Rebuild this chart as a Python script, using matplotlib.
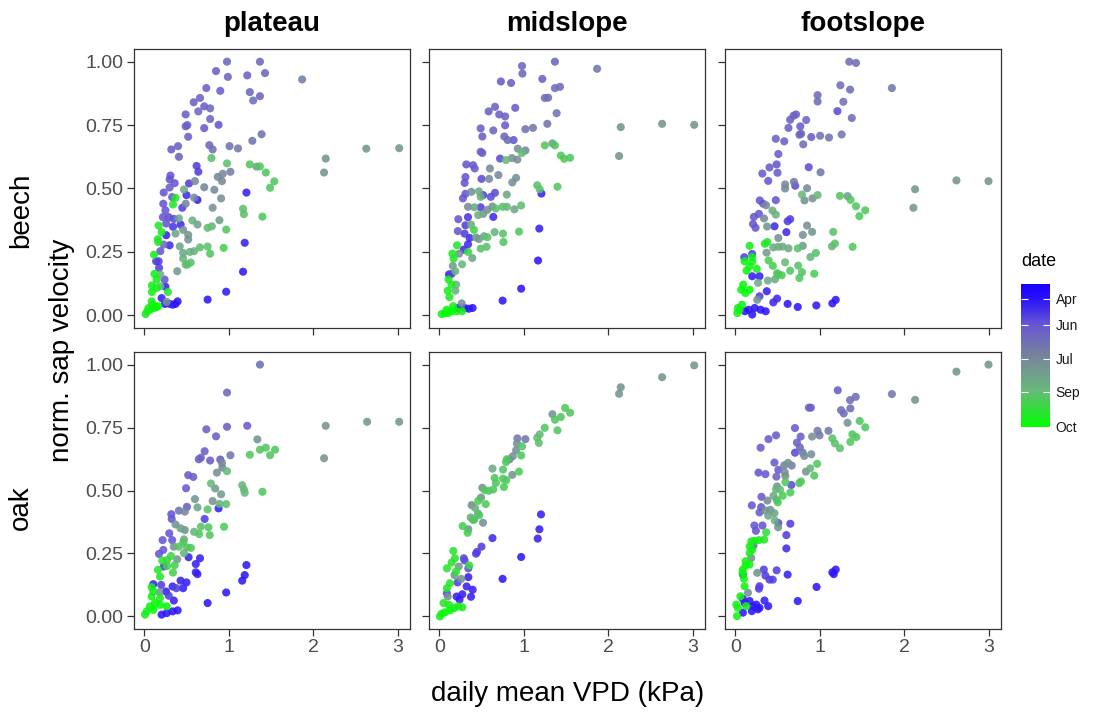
import numpy as np
import matplotlib
matplotlib.use("Agg")
import matplotlib.pyplot as plt
from matplotlib.colors import LinearSegmentedColormap, Normalize
from matplotlib.cm import ScalarMappable

plt.rcParams["font.family"] = ["Liberation Sans", "DejaVu Sans"]

# (daily mean VPD [kPa], normalised sap velocity, day of year)
beech_plateau = [
    (0.98, 1.00, 165), (1.37, 1.00, 165), (0.85, 0.963, 160), (0.99, 0.94, 165), (1.22, 0.946, 160),
    (1.43, 0.955, 165), (1.87, 0.93, 185), (0.735, 0.896, 160), (0.90, 0.885, 155), (1.25, 0.88, 165),
    (1.37, 0.864, 165), (1.29, 0.847, 170), (0.66, 0.857, 160), (0.585, 0.84, 160), (0.71, 0.824, 160),
    (0.78, 0.816, 165), (0.64, 0.804, 165), (0.49, 0.792, 160), (0.78, 0.774, 165), (0.71, 0.738, 155),
    (0.88, 0.751, 150), (0.49, 0.745, 155), (0.51, 0.75, 160), (0.52, 0.704, 160), (1.39, 0.714, 175),
    (1.28, 0.688, 175), (0.77, 0.671, 165), (0.81, 0.654, 170), (1.01, 0.667, 175), (1.11, 0.658, 180),
    (0.40, 0.667, 160), (0.32, 0.654, 155), (0.41, 0.625, 160),
    (0.795, 0.62, 240), (0.98, 0.599, 240), (1.25, 0.595, 245), (1.37, 0.587, 245), (1.33, 0.586, 215),
    (1.44, 0.563, 245), (1.54, 0.528, 245), (1.49, 0.503, 245),
    (2.15, 0.618, 205), (2.13, 0.563, 205), (2.63, 0.657, 205), (3.02, 0.659, 205),
    (0.62, 0.589, 140), (0.64, 0.566, 140), (0.31, 0.551, 150), (0.30, 0.536, 150), (0.36, 0.521, 150),
    (0.53, 0.52, 140), (0.60, 0.529, 195), (0.87, 0.546, 195), (0.93, 0.558, 195), (0.92, 0.529, 195),
    (1.02, 0.566, 185), (0.71, 0.505, 190), (0.83, 0.495, 195), (0.30, 0.504, 155), (0.23, 0.484, 150),
    (0.47, 0.496, 225), (0.33, 0.466, 150), (0.37, 0.463, 265), (1.21, 0.484, 125), (0.50, 0.474, 130),
    (0.63, 0.455, 125), (0.59, 0.464, 195), (0.34, 0.437, 265), (0.225, 0.44, 150), (0.45, 0.424, 140),
    (0.49, 0.44, 190), (0.91, 0.461, 200), (0.81, 0.424, 200), (0.25, 0.414, 150), (1.17, 0.42, 240),
    (1.18, 0.399, 240), (1.40, 0.389, 245), (0.22, 0.387, 150), (0.29, 0.387, 145), (0.41, 0.382, 220),
    (0.35, 0.38, 145), (0.57, 0.374, 230), (0.63, 0.358, 215), (0.89, 0.375, 215), (0.17, 0.354, 265),
    (0.26, 0.362, 150), (0.34, 0.349, 135), (0.43, 0.358, 130), (0.75, 0.345, 240), (0.80, 0.351, 230),
    (0.97, 0.338, 245), (0.205, 0.328, 265), (0.37, 0.322, 220), (0.46, 0.337, 205), (0.26, 0.316, 125),
    (0.52, 0.317, 205), (0.16, 0.30, 265), (0.165, 0.289, 265), (0.23, 0.279, 170), (0.30, 0.276, 130),
    (0.42, 0.272, 220), (0.52, 0.299, 205), (0.66, 0.268, 240), (0.75, 0.271, 240), (0.78, 0.243, 245),
    (0.54, 0.25, 230), (0.59, 0.253, 230), (0.46, 0.246, 220), (0.94, 0.266, 250), (1.19, 0.286, 125),
    (0.19, 0.253, 150), (0.115, 0.239, 270), (0.14, 0.213, 140), (0.17, 0.213, 140), (0.46, 0.224, 230),
    (0.51, 0.20, 235), (0.55, 0.208, 240), (0.49, 0.20, 240), (0.175, 0.187, 140), (0.12, 0.163, 270),
    (0.19, 0.161, 230), (0.39, 0.174, 210), (1.17, 0.172, 120), (0.145, 0.141, 270), (0.24, 0.141, 150),
    (0.09, 0.118, 270), (0.145, 0.108, 270), (0.19, 0.114, 240), (0.25, 0.113, 125), (0.28, 0.092, 265),
    (0.09, 0.092, 272), (0.97, 0.093, 120), (0.75, 0.062, 120), (0.205, 0.068, 125), (0.265, 0.053, 200),
    (0.245, 0.045, 120), (0.335, 0.042, 120), (0.395, 0.055, 120), (0.37, 0.045, 120), (0.30, 0.045, 125),
    (0.087, 0.055, 272), (0.115, 0.029, 278), (0.14, 0.032, 278), (0.165, 0.036, 275), (0.07, 0.022, 272),
    (0.035, 0.016, 270), (0.016, 0.005, 265), (0.05, 0.029, 265), (0.10, 0.042, 272),
]

beech_midslope = [
    (1.37, 1.00, 165), (0.98, 0.983, 165), (0.985, 0.953, 165), (1.87, 0.972, 180), (0.73, 0.922, 155),
    (0.85, 0.916, 160), (1.22, 0.932, 160), (1.37, 0.896, 170), (1.43, 0.901, 170), (1.25, 0.857, 170),
    (1.29, 0.858, 170), (0.66, 0.822, 160), (0.90, 0.818, 155), (0.585, 0.804, 160), (0.71, 0.792, 160),
    (0.78, 0.784, 160), (1.39, 0.797, 175), (0.49, 0.737, 160), (0.78, 0.749, 155), (0.64, 0.729, 165),
    (0.51, 0.705, 160), (1.02, 0.734, 175), (1.11, 0.739, 180), (1.28, 0.755, 175), (0.77, 0.705, 165),
    (0.81, 0.691, 170), (0.88, 0.691, 150), (2.15, 0.742, 205), (2.64, 0.755, 205), (3.02, 0.751, 205),
    (2.13, 0.628, 205), (1.25, 0.67, 245), (1.34, 0.678, 210), (1.37, 0.67, 245), (1.44, 0.63, 245),
    (1.48, 0.617, 245), (1.55, 0.621, 245), (0.93, 0.657, 200), (0.98, 0.64, 240), (1.02, 0.65, 190),
    (0.49, 0.645, 160), (0.51, 0.64, 160), (0.72, 0.618, 145), (0.79, 0.612, 235), (0.86, 0.62, 200),
    (0.925, 0.614, 200), (0.32, 0.595, 150), (0.40, 0.592, 155), (0.42, 0.579, 155), (0.60, 0.579, 195),
    (0.70, 0.553, 195), (0.59, 0.538, 195), (0.31, 0.545, 150), (0.50, 0.538, 145), (0.30, 0.522, 150),
    (0.865, 0.524, 200), (0.91, 0.542, 200), (1.16, 0.513, 240), (1.19, 0.497, 240), (1.21, 0.48, 125),
    (1.40, 0.507, 245), (0.47, 0.489, 225), (0.49, 0.467, 230), (0.38, 0.487, 200), (0.66, 0.483, 145),
    (0.61, 0.467, 145), (0.52, 0.474, 140), (0.80, 0.476, 220), (0.28, 0.461, 150), (0.31, 0.479, 150),
    (0.34, 0.428, 195), (0.415, 0.426, 220), (0.49, 0.426, 140), (0.57, 0.416, 200), (0.63, 0.429, 200),
    (0.67, 0.421, 240), (0.75, 0.428, 240), (0.80, 0.428, 230), (0.89, 0.418, 220), (0.97, 0.433, 240),
    (0.46, 0.395, 225), (0.52, 0.40, 205), (0.64, 0.388, 130), (0.225, 0.379, 150), (0.34, 0.387, 135),
    (0.31, 0.355, 140), (0.375, 0.358, 225), (0.22, 0.332, 150), (0.41, 0.337, 250), (0.30, 0.322, 140),
    (1.185, 0.342, 125), (0.945, 0.33, 245), (0.755, 0.322, 240), (0.655, 0.328, 230), (0.53, 0.312, 230),
    (0.57, 0.308, 240), (0.435, 0.307, 210), (0.47, 0.301, 210), (0.76, 0.289, 245), (0.36, 0.305, 130),
    (0.34, 0.28, 130), (0.21, 0.276, 265), (0.49, 0.263, 240), (0.56, 0.27, 240), (0.29, 0.259, 130),
    (0.34, 0.25, 255), (0.235, 0.243, 200), (0.155, 0.243, 268), (0.17, 0.224, 265), (0.39, 0.226, 220),
    (1.17, 0.216, 120), (0.27, 0.201, 235), (0.16, 0.195, 210), (0.19, 0.174, 230), (0.115, 0.161, 125),
    (0.145, 0.163, 140), (0.11, 0.141, 268), (0.20, 0.121, 230), (0.145, 0.121, 268), (0.10, 0.097, 270),
    (0.97, 0.105, 120), (0.75, 0.058, 120), (0.19, 0.097, 230), (0.12, 0.072, 270), (0.265, 0.047, 200),
    (0.30, 0.029, 120), (0.35, 0.026, 120), (0.395, 0.029, 120), (0.225, 0.029, 120), (0.27, 0.016, 270),
    (0.205, 0.016, 275), (0.145, 0.016, 278), (0.105, 0.009, 278), (0.067, 0.009, 275), (0.028, 0.005, 272),
    (0.087, 0.022, 275), (0.165, 0.036, 272),
]

beech_footslope = [
    (1.35, 1.00, 170), (1.43, 0.995, 170), (1.855, 0.896, 180), (1.245, 0.907, 170), (1.36, 0.89, 170),
    (0.975, 0.868, 170), (0.975, 0.843, 170), (1.28, 0.842, 175), (1.21, 0.805, 145), (1.38, 0.778, 170),
    (0.72, 0.792, 160), (0.69, 0.787, 160), (0.65, 0.771, 160), (0.84, 0.77, 165), (0.77, 0.745, 155),
    (0.63, 0.739, 160), (0.76, 0.712, 165), (0.78, 0.716, 165), (0.90, 0.703, 155), (1.005, 0.708, 175),
    (1.11, 0.701, 175), (1.26, 0.713, 180), (0.805, 0.674, 170), (0.48, 0.696, 160), (0.58, 0.686, 160),
    (0.51, 0.636, 155), (0.49, 0.595, 150), (0.405, 0.583, 155), (0.32, 0.559, 155), (0.50, 0.562, 155),
    (0.39, 0.53, 150), (0.87, 0.584, 145), (1.01, 0.564, 180), (0.59, 0.516, 195), (0.59, 0.50, 195),
    (0.695, 0.526, 180), (0.71, 0.511, 145), (0.85, 0.501, 195), (0.79, 0.476, 235), (0.82, 0.453, 200),
    (0.915, 0.461, 200), (0.975, 0.474, 235), (1.24, 0.471, 245), (1.33, 0.47, 210), (1.365, 0.455, 245),
    (1.43, 0.43, 245), (1.54, 0.414, 245), (1.47, 0.391, 245), (2.13, 0.497, 205), (2.11, 0.424, 205),
    (2.62, 0.532, 205), (3.00, 0.529, 205), (0.29, 0.453, 150), (0.365, 0.434, 195), (0.33, 0.44, 150),
    (0.48, 0.454, 150), (0.44, 0.413, 225), (0.48, 0.397, 230), (0.28, 0.40, 150), (0.22, 0.388, 150),
    (0.34, 0.382, 195), (0.21, 0.36, 150), (0.24, 0.345, 150), (0.377, 0.35, 205), (0.465, 0.351, 130),
    (0.62, 0.371, 140), (0.65, 0.379, 140), (0.605, 0.328, 130), (0.85, 0.354, 200), (0.91, 0.329, 205),
    (0.80, 0.317, 205), (0.51, 0.305, 200), (1.16, 0.329, 240), (1.18, 0.283, 240), (1.145, 0.272, 230),
    (1.39, 0.27, 245), (0.17, 0.274, 270), (0.35, 0.282, 265), (0.38, 0.289, 265), (0.45, 0.268, 225),
    (0.51, 0.27, 225), (0.56, 0.271, 225), (0.63, 0.264, 225), (0.74, 0.264, 240), (0.80, 0.274, 210),
    (0.37, 0.247, 210), (0.20, 0.242, 140), (0.106, 0.229, 140), (0.20, 0.23, 270), (0.11, 0.213, 275),
    (0.395, 0.216, 250), (0.445, 0.195, 250), (0.59, 0.209, 235), (0.745, 0.196, 240), (0.89, 0.23, 230),
    (0.955, 0.246, 240), (0.20, 0.212, 272), (0.17, 0.193, 272), (0.255, 0.183, 270), (0.134, 0.176, 275),
    (0.20, 0.154, 125), (0.287, 0.154, 125), (0.495, 0.166, 245), (0.51, 0.161, 245), (0.55, 0.158, 250),
    (0.65, 0.176, 245), (0.79, 0.17, 245), (0.76, 0.147, 245), (0.935, 0.164, 250), (0.385, 0.137, 225),
    (0.47, 0.142, 225), (0.27, 0.128, 225), (0.094, 0.121, 275), (0.12, 0.088, 278), (0.17, 0.101, 278),
    (0.07, 0.101, 278), (0.373, 0.095, 125), (0.26, 0.061, 205), (0.287, 0.075, 140), (0.495, 0.066, 130),
    (0.45, 0.051, 130), (0.62, 0.045, 120), (0.74, 0.033, 120), (0.96, 0.039, 120), (1.15, 0.047, 120),
    (1.19, 0.061, 120), (0.157, 0.022, 120), (0.23, 0.029, 120), (0.30, 0.022, 120), (0.36, 0.016, 120),
    (0.20, 0.003, 120), (0.114, 0.016, 120), (0.024, 0.009, 272), (0.05, 0.022, 272), (0.08, 0.042, 272),
    (0.03, 0.029, 272),
]

oak_plateau = [
    (1.37, 1.00, 170), (0.98, 0.889, 165), (0.735, 0.743, 160), (0.98, 0.753, 160), (1.22, 0.757, 155),
    (0.85, 0.715, 160), (2.15, 0.757, 205), (2.64, 0.773, 205), (3.02, 0.773, 205), (2.13, 0.628, 205),
    (1.34, 0.703, 205), (1.37, 0.662, 245), (1.44, 0.67, 245), (1.55, 0.662, 245), (1.25, 0.642, 245),
    (1.49, 0.64, 245), (1.02, 0.64, 180), (0.715, 0.656, 160), (0.645, 0.624, 160), (0.67, 0.63, 160),
    (0.78, 0.619, 155), (0.90, 0.623, 150), (0.92, 0.61, 195), (0.925, 0.591, 195), (0.98, 0.577, 235),
    (0.86, 0.571, 200), (0.52, 0.561, 155), (0.58, 0.554, 155), (0.495, 0.509, 155), (1.16, 0.521, 235),
    (1.18, 0.504, 235), (1.19, 0.491, 235), (1.40, 0.495, 245), (0.79, 0.528, 235), (0.84, 0.508, 210),
    (0.91, 0.485, 210), (0.60, 0.466, 205), (0.81, 0.458, 205), (0.89, 0.447, 230), (0.97, 0.446, 240),
    (0.88, 0.429, 125), (0.63, 0.433, 220), (0.75, 0.425, 240), (0.505, 0.435, 155), (0.41, 0.42, 175),
    (0.48, 0.416, 195), (0.32, 0.406, 150), (0.325, 0.387, 150), (0.715, 0.387, 140), (0.37, 0.365, 200),
    (0.43, 0.35, 215), (0.48, 0.343, 205), (0.59, 0.336, 230), (0.67, 0.356, 240), (0.76, 0.354, 245),
    (0.775, 0.323, 245), (0.945, 0.356, 250), (0.65, 0.327, 245), (0.296, 0.33, 150), (0.217, 0.303, 150),
    (0.33, 0.303, 150), (0.47, 0.306, 220), (0.462, 0.294, 245), (0.35, 0.277, 205), (0.41, 0.277, 245),
    (0.506, 0.274, 245), (0.553, 0.272, 245), (0.225, 0.264, 150), (0.174, 0.248, 150), (0.47, 0.251, 230),
    (0.316, 0.24, 255), (0.525, 0.235, 125), (0.66, 0.231, 125), (0.39, 0.227, 205), (0.213, 0.222, 265),
    (0.27, 0.224, 250), (0.61, 0.208, 125), (0.27, 0.20, 255), (0.36, 0.203, 250), (0.23, 0.198, 140),
    (1.21, 0.204, 120), (0.34, 0.174, 250), (0.162, 0.185, 265), (0.186, 0.158, 265), (0.61, 0.175, 125),
    (0.63, 0.168, 125), (1.19, 0.164, 120), (1.16, 0.142, 120), (0.43, 0.142, 125), (0.50, 0.135, 125),
    (0.107, 0.128, 125), (0.20, 0.125, 140), (0.335, 0.119, 125), (0.38, 0.112, 140), (0.46, 0.112, 125),
    (0.087, 0.116, 270), (0.107, 0.099, 270), (0.178, 0.096, 205), (0.257, 0.099, 125), (0.29, 0.082, 140),
    (0.97, 0.095, 120), (0.75, 0.053, 120), (0.35, 0.063, 125), (0.186, 0.073, 265), (0.087, 0.079, 270),
    (0.126, 0.053, 278), (0.186, 0.046, 278), (0.265, 0.04, 275), (0.067, 0.04, 275), (0.028, 0.02, 272),
    (0.008, 0.007, 270), (0.205, 0.007, 120), (0.265, 0.013, 120), (0.336, 0.02, 120), (0.395, 0.024, 120),
    (0.107, 0.026, 278),
]

oak_midslope = [
    (3.02, 0.997, 205), (2.64, 0.95, 205), (2.15, 0.91, 205), (2.13, 0.884, 205), (1.49, 0.828, 245),
    (1.55, 0.809, 245), (1.44, 0.792, 245), (1.37, 0.781, 245), (1.34, 0.803, 205), (1.25, 0.749, 245),
    (1.40, 0.739, 245), (1.19, 0.723, 235), (1.16, 0.71, 235), (1.18, 0.689, 240), (0.925, 0.707, 180),
    (1.02, 0.704, 180), (0.92, 0.686, 200), (0.98, 0.675, 245), (0.91, 0.66, 200), (0.97, 0.639, 245),
    (0.87, 0.636, 200), (0.83, 0.623, 185), (0.80, 0.624, 245), (0.79, 0.613, 240), (0.63, 0.587, 225),
    (0.755, 0.583, 245), (0.945, 0.575, 250), (0.865, 0.562, 205), (0.656, 0.55, 245), (0.755, 0.547, 245),
    (0.795, 0.541, 245), (0.67, 0.53, 245), (0.766, 0.514, 250), (0.51, 0.511, 200), (0.54, 0.501, 245),
    (0.585, 0.499, 245), (0.64, 0.504, 245), (0.494, 0.472, 205), (0.462, 0.459, 250), (0.55, 0.446, 245),
    (0.383, 0.442, 195), (0.423, 0.431, 230), (0.458, 0.409, 230), (0.474, 0.402, 245), (0.372, 0.393, 225),
    (0.415, 0.385, 225), (0.518, 0.372, 200), (0.40, 0.383, 245), (0.277, 0.359, 250), (0.344, 0.346, 205),
    (0.336, 0.332, 250), (1.205, 0.405, 125), (1.186, 0.346, 125), (1.166, 0.309, 125), (0.63, 0.311, 130),
    (0.50, 0.277, 140), (0.447, 0.256, 140), (0.435, 0.249, 140), (0.97, 0.236, 120), (0.166, 0.26, 262),
    (0.186, 0.231, 262), (0.146, 0.214, 262), (0.29, 0.231, 145), (0.30, 0.222, 145), (0.23, 0.198, 205),
    (0.356, 0.202, 255), (0.344, 0.191, 145), (0.09, 0.191, 265), (0.198, 0.178, 262), (0.18, 0.164, 205),
    (0.26, 0.149, 205), (0.75, 0.149, 120), (0.344, 0.156, 125), (0.126, 0.132, 265), (0.217, 0.135, 140),
    (0.324, 0.119, 125), (0.395, 0.106, 125), (0.09, 0.112, 265), (0.09, 0.092, 140), (0.205, 0.079, 125),
    (0.273, 0.088, 125), (0.375, 0.078, 125), (0.24, 0.067, 125), (0.10, 0.079, 200), (0.05, 0.053, 265),
    (0.115, 0.046, 270), (0.178, 0.033, 270), (0.273, 0.036, 265), (0.225, 0.04, 270), (0.126, 0.024, 278),
    (0.067, 0.016, 278), (0.008, 0.00, 272), (0.028, 0.011, 272),
]

oak_footslope = [
    (3.00, 1.00, 205), (2.62, 0.972, 205), (1.855, 0.883, 180), (2.13, 0.86, 205), (1.214, 0.898, 155),
    (1.36, 0.859, 170), (1.426, 0.872, 170), (1.253, 0.819, 170), (1.363, 0.826, 170), (1.285, 0.806, 170),
    (0.872, 0.829, 160), (0.896, 0.829, 160), (1.33, 0.769, 205), (1.474, 0.776, 245), (1.54, 0.751, 245),
    (1.387, 0.723, 245), (1.434, 0.712, 245), (1.363, 0.693, 245), (1.15, 0.707, 240), (1.18, 0.687, 240),
    (1.24, 0.668, 240), (1.104, 0.737, 180), (0.974, 0.737, 180), (0.998, 0.719, 180), (0.91, 0.714, 200),
    (0.707, 0.748, 155), (0.774, 0.714, 160), (0.483, 0.719, 155), (0.393, 0.704, 155), (0.30, 0.67, 155),
    (0.73, 0.69, 160), (0.766, 0.671, 165), (0.80, 0.65, 180), (0.707, 0.65, 145), (0.817, 0.637, 200),
    (0.90, 0.644, 200), (0.97, 0.606, 245), (0.888, 0.588, 230), (0.837, 0.575, 205), (0.935, 0.559, 245),
    (0.625, 0.61, 205), (0.58, 0.60, 185), (0.668, 0.599, 185), (0.464, 0.611, 155), (0.51, 0.582, 155),
    (0.275, 0.571, 150), (0.357, 0.565, 150), (0.593, 0.558, 200), (0.585, 0.573, 200), (0.487, 0.555, 160),
    (0.593, 0.533, 245), (0.778, 0.536, 245), (0.758, 0.529, 245), (0.664, 0.522, 145), (0.495, 0.516, 200),
    (0.483, 0.505, 235), (0.53, 0.503, 235), (0.652, 0.492, 250), (0.562, 0.479, 250), (0.452, 0.479, 225),
    (0.49, 0.463, 225), (0.503, 0.453, 250), (0.31, 0.475, 155), (0.196, 0.441, 150), (0.306, 0.434, 150),
    (0.38, 0.46, 195), (0.357, 0.421, 200), (0.416, 0.423, 200), (0.464, 0.41, 220), (0.287, 0.413, 155),
    (0.39, 0.40, 220), (0.468, 0.381, 230), (0.51, 0.371, 145), (0.652, 0.368, 140), (0.507, 0.354, 205),
    (0.226, 0.361, 150), (0.322, 0.361, 150), (0.244, 0.34, 150), (0.365, 0.334, 260), (0.605, 0.323, 140),
    (0.342, 0.305, 265), (0.189, 0.298, 270), (0.228, 0.30, 270), (0.28, 0.303, 270), (0.17, 0.278, 270),
    (0.216, 0.281, 165), (0.20, 0.265, 270), (0.605, 0.27, 130), (0.17, 0.252, 270), (0.189, 0.232, 200),
    (0.122, 0.219, 275), (0.122, 0.202, 275), (0.09, 0.186, 275), (0.17, 0.206, 275), (0.086, 0.173, 275),
    (0.102, 0.15, 275), (0.11, 0.12, 272), (0.09, 0.166, 140), (0.26, 0.173, 205), (0.338, 0.186, 140),
    (0.49, 0.183, 140), (0.357, 0.162, 140), (0.405, 0.146, 140), (0.444, 0.146, 140), (0.62, 0.166, 125),
    (0.287, 0.12, 140), (0.28, 0.11, 140), (1.167, 0.168, 120), (1.19, 0.186, 120), (1.15, 0.175, 120),
    (0.963, 0.117, 120), (0.74, 0.061, 120), (0.15, 0.094, 200), (0.06, 0.08, 272), (0.09, 0.07, 125),
    (0.012, 0.047, 272), (0.03, 0.034, 272), (0.02, 0.001, 272), (0.11, 0.054, 120), (0.17, 0.061, 120),
    (0.208, 0.041, 120), (0.248, 0.047, 120), (0.287, 0.034, 120), (0.346, 0.063, 125), (0.39, 0.041, 120),
    (0.196, 0.021, 120), (0.09, 0.015, 120), (0.267, 0.028, 120), (0.13, 0.041, 270),
]

species = ["beech", "oak"]
sites = ["plateau", "midslope", "footslope"]
panels = {
    ("beech", "plateau"): beech_plateau,
    ("beech", "midslope"): beech_midslope,
    ("beech", "footslope"): beech_footslope,
    ("oak", "plateau"): oak_plateau,
    ("oak", "midslope"): oak_midslope,
    ("oak", "footslope"): oak_footslope,
}

date_ticks = [118, 151, 194, 236, 280]
date_labels = ["Apr", "Jun", "Jul", "Sep", "Oct"]
date_min, date_max = 100, 280

cmap = LinearSegmentedColormap.from_list(
    "date",
    [(0.0, "#1800ff"), (0.1, "#2a12fb"), (0.28, "#6656d2"),
     (0.52, "#778899"), (0.75, "#68b87a"), (1.0, "#00ff00")],
)
norm = Normalize(date_min, date_max)

W, H = 1095, 714
fig = plt.figure(figsize=(W / 100, H / 100), dpi=100)


def box(left, top, width, height):
    return [left / W, 1 - (top + height) / H, width / W, height / H]


col_left = [134, 429, 725]
row_top = [49, 352]
panel_w = 276
panel_h = [279, 277]
edge = "#333333"

for r, sp in enumerate(species):
    for c, site in enumerate(sites):
        ax = fig.add_axes(box(col_left[c], row_top[r], panel_w, panel_h[r]))
        d = np.array(panels[(sp, site)])
        order = np.argsort(d[:, 2], kind="stable")
        ax.scatter(d[order, 0], d[order, 1], c=d[order, 2], cmap=cmap, norm=norm,
                   s=34, alpha=0.88, linewidths=0)
        ax.set_xlim(-0.122, 3.148)
        ax.set_ylim(-0.05, 1.05)
        ax.set_xticks([0, 1, 2, 3])
        ax.set_yticks([0, 0.25, 0.5, 0.75, 1.0])
        ax.set_xticklabels(["0", "1", "2", "3"])
        ax.set_yticklabels(["0.00", "0.25", "0.50", "0.75", "1.00"])
        ax.tick_params(length=5, width=0.9, color=edge, labelsize=14,
                       labelcolor="#4d4d4d", pad=2.5)
        if c > 0:
            ax.tick_params(labelleft=False)
        if r == 0:
            ax.tick_params(labelbottom=False)
        for s in ax.spines.values():
            s.set_color(edge)
            s.set_linewidth(0.9)
        if r == 0:
            fig.text((col_left[c] + panel_w / 2) / W, 1 - 24 / H, site,
                     ha="center", va="center", fontsize=20, fontweight="bold")

fig.text(21 / W, 1 - 210 / H, "beech", rotation=90, ha="center", va="center", fontsize=20)
fig.text(21 / W, 1 - 508 / H, "oak", rotation=90, ha="center", va="center", fontsize=20)
fig.text(62 / W, 1 - 350 / H, "norm. sap velocity", rotation=90, ha="center",
         va="center", fontsize=20)
fig.text(567.5 / W, 1 - 694 / H, "daily mean VPD (kPa)", ha="center", va="center",
         fontsize=20)

# colour bar for the date
cax = fig.add_axes(box(1021, 284.3, 29, 142.4))
cb = fig.colorbar(ScalarMappable(norm=norm, cmap=cmap), cax=cax)
cb.outline.set_visible(False)
cax.invert_yaxis()
cb.set_ticks(date_ticks)
cb.set_ticklabels(date_labels)
cax.yaxis.set_ticks_position("both")
cax.tick_params(direction="in", length=5, width=0.8, color="white",
                labelsize=10, labelcolor="#1a1a1a", pad=4, labelleft=False,
                labelright=True)
fig.text(1021 / W, 1 - 262 / H, "date", ha="left", va="center", fontsize=13)

fig.savefig("out.png", dpi=100)
